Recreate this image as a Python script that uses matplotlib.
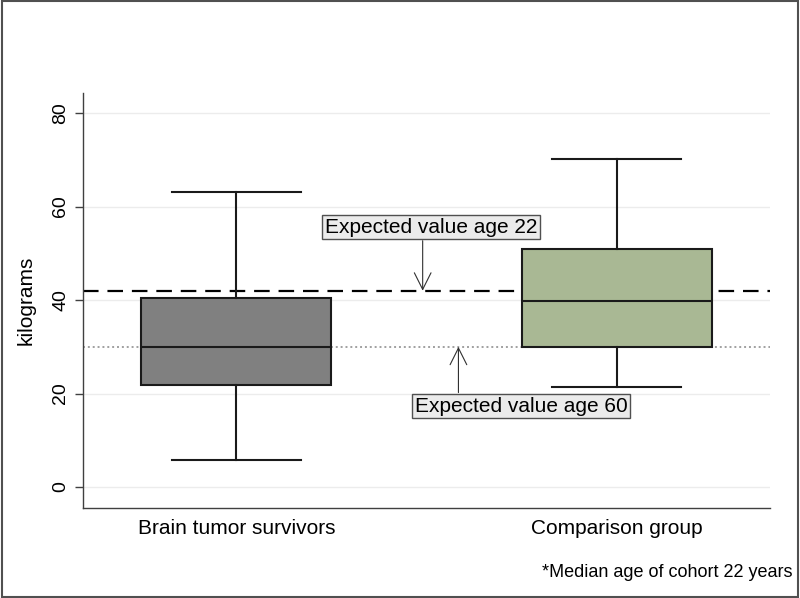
import matplotlib
matplotlib.use("Agg")
import matplotlib.pyplot as plt
from matplotlib.patches import Rectangle

plt.rcParams['font.family'] = ['Liberation Sans', 'DejaVu Sans']

groups = ["Brain tumor survivors", "Comparison group"]
whis_low = [5.8, 21.5]
q1 = [21.8, 30.0]
medians = [30.0, 39.9]
q3 = [40.5, 50.9]
whis_high = [63.2, 70.1]
box_colors = ["#808080", "#a9b894"]

expected_22 = 42.0
expected_60 = 30.0
yticks = [0, 20, 40, 60, 80]

fig = plt.figure(figsize=(8.0, 5.98), dpi=100)
ax = fig.add_axes([0.1037, 0.1505, 0.8588, 0.694])

for t in yticks:
    ax.axhline(t, color="#ececec", lw=1.0, zorder=0)

ax.axhline(expected_22, color="black", lw=1.6, ls=(0, (7, 4)), zorder=1)
ax.axhline(expected_60, color="#a0a0a0", lw=1.4, ls=(0, (1, 1.5)), zorder=1)

stats = []
for i, g in enumerate(groups):
    stats.append(dict(label=g, med=medians[i], q1=q1[i], q3=q3[i],
                      whislo=whis_low[i], whishi=whis_high[i], fliers=[]))
bp = ax.bxp(stats, positions=[1, 2], widths=0.5, patch_artist=True,
            showfliers=False,
            boxprops=dict(edgecolor="#1a1a1a", linewidth=1.5),
            medianprops=dict(color="#1a1a1a", linewidth=1.5),
            whiskerprops=dict(color="#1a1a1a", linewidth=1.5),
            capprops=dict(color="#1a1a1a", linewidth=1.5),
            capwidths=0.34, zorder=3)
for patch, c in zip(bp["boxes"], box_colors):
    patch.set_facecolor(c)

ax.set_xlim(0.597, 2.403)
ax.set_ylim(-4.49, 84.3)
ax.set_yticks(yticks)
ax.set_yticklabels([str(t) for t in yticks], rotation=90, va="center", fontsize=14)
ax.tick_params(axis="y", length=6, width=1, color="#404040", pad=4)
ax.tick_params(axis="x", length=0, labelsize=15, pad=8)
ax.set_ylabel("kilograms", fontsize=15, labelpad=12)

for s in ["top", "right"]:
    ax.spines[s].set_visible(False)
ax.spines["left"].set_color("#404040")
ax.spines["bottom"].set_color("#404040")
ax.spines["left"].set_linewidth(1.0)
ax.spines["bottom"].set_linewidth(1.0)

bbox = dict(boxstyle="square,pad=0.12", facecolor="#ebebeb", edgecolor="#505050", lw=1.0)
arrow = dict(arrowstyle="->,head_length=0.6,head_width=0.3", color="#303030", lw=0.8,
             mutation_scale=20, shrinkA=0, shrinkB=0)

ax.text(1.512, 55.55, "Expected value age 22", ha="center", va="center", fontsize=15,
        bbox=bbox, zorder=5)
ax.annotate("", xy=(1.490, expected_22), xytext=(1.490, 52.7), arrowprops=arrow, zorder=5)
ax.text(1.749, 17.26, "Expected value age 60", ha="center", va="center", fontsize=15,
        bbox=bbox, zorder=5)
ax.annotate("", xy=(1.584, expected_60), xytext=(1.584, 20.2), arrowprops=arrow, zorder=5)

fig.text(0.991, 0.043, "*Median age of cohort 22 years", ha="right", va="center", fontsize=13)

fig.patches.append(Rectangle((0.002, 0.002), 0.996, 0.996, transform=fig.transFigure,
                             fill=False, edgecolor="#505050", lw=1.5))

fig.savefig("out.png", dpi=100)
